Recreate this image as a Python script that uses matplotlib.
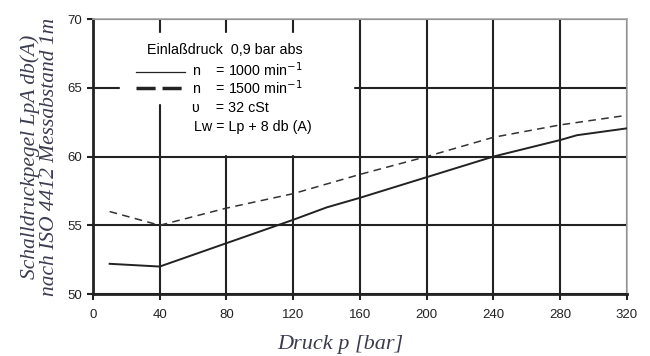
import matplotlib.pyplot as plt
from matplotlib.patches import Rectangle

# pressure [bar] and sound pressure level [dB(A)]
p_1000 = [10, 40, 80, 120, 140, 160, 200, 240, 280, 290, 320]
L_1000 = [52.2, 52.0, 53.7, 55.4, 56.3, 57.0, 58.5, 60.0, 61.2, 61.55, 62.05]
p_1500 = [10, 40, 80, 120, 160, 200, 240, 280, 320]
L_1500 = [56.0, 55.0, 56.25, 57.3, 58.7, 60.0, 61.4, 62.3, 63.0]

xticks = [0, 40, 80, 120, 160, 200, 240, 280, 320]
yticks = [50, 55, 60, 65, 70]

label_col = '#3c3c50'

fig = plt.figure(figsize=(6.5, 3.56), dpi=100)
ax = fig.add_axes([0.143, 0.174, 0.8216, 0.7726])

ax.set_xlim(0, 320)
ax.set_ylim(50, 70)
ax.set_xticks(xticks)
ax.set_yticks(yticks)
ax.tick_params(labelsize=9.5, length=4, width=1.5, colors='#222222',
               labelfontfamily='Liberation Sans')
ax.tick_params(axis='x', pad=7)
ax.tick_params(axis='y', pad=4)
ax.grid(True, color='#222222', lw=1.5, zorder=1)

for s in ['left', 'bottom']:
    ax.spines[s].set_linewidth(2)
    ax.spines[s].set_color('#222222')
for s in ['top', 'right']:
    ax.spines[s].set_linewidth(1.2)
    ax.spines[s].set_color('#aaaaaa')

# white area behind the legend text
ax.add_patch(Rectangle((16, 63.9), 140, 5.1, color='white', zorder=2))
ax.add_patch(Rectangle((58, 60.15), 98, 3.8, color='white', zorder=2))

ax.plot(p_1000, L_1000, color='#222222', lw=1.4, zorder=3)
ax.plot(p_1500, L_1500, color='#333333', lw=1.1, ls=(0, (5, 3.5)), zorder=3)

# legend block
ax.plot([26, 55], [66.15, 66.15], color='#222222', lw=0.9, zorder=3)
ax.plot([26, 55], [65.0, 65.0], color='#222222', lw=2.5, ls=(0, (5.5, 2)), zorder=3)
fs = 10.3
ff = 'Liberation Sans'
ax.text(32.3, 67.75, 'Einlaßdruck  0,9 bar abs', fontsize=fs, family=ff, va='center', zorder=4)
ax.text(59.3, 66.3, 'n    = 1000 min$^{-1}$', fontsize=fs, family=ff, va='center', zorder=4)
ax.text(59.3, 65.0, 'n    = 1500 min$^{-1}$', fontsize=fs, family=ff, va='center', zorder=4)
ax.text(59.3, 63.5, 'υ    = 32 cSt', fontsize=fs, family=ff, va='center', zorder=4)
ax.text(60.5, 62.15, 'Lw = Lp + 8 db (A)', fontsize=fs, family=ff, va='center', zorder=4)

ax.set_xlabel('Druck p [bar]', fontsize=16, family='Liberation Serif', style='italic',
              color=label_col, labelpad=2)
ax.xaxis.set_label_coords(0.464, -0.15)
ax.set_ylabel('Schalldruckpegel LpA db(A)\nnach ISO 4412 Messabstand 1m', fontsize=15.5,
              family='Liberation Serif', style='italic', color=label_col,
              labelpad=6, linespacing=0.95)

fig.savefig('out.png', dpi=100)
